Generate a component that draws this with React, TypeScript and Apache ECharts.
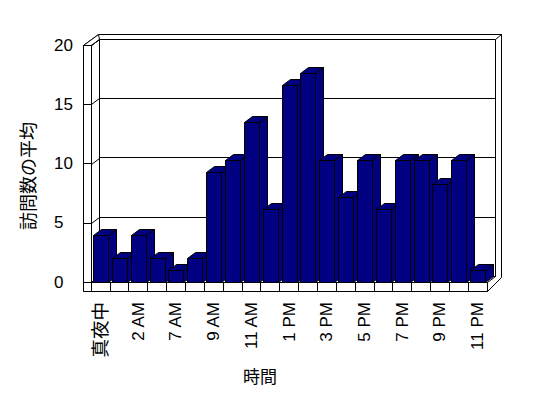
import React, { useEffect, useRef } from "react";
import * as echarts from "echarts";

const categories = [
  "真夜中", "1 AM", "2 AM", "6 AM", "7 AM", "8 AM", "9 AM", "10 AM", "11 AM", "12 PM", "1 PM",
  "2 PM", "3 PM", "4 PM", "5 PM", "6 PM", "7 PM", "8 PM", "9 PM", "10 PM", "11 PM",
];
const visits = [4, 2, 4, 2, 1, 2, 9.3, 10.3, 13.5, 6.2, 16.6, 17.6, 10.3, 7.2, 10.3, 6.2, 10.3, 10.3, 8.3, 10.3, 1];
const yTicks = [0, 5, 10, 15, 20];
const xTitle = "時間";
const yTitle = "訪問数の平均";

const FONT = '"Liberation Sans", "Noto Sans CJK JP", sans-serif';
const W = 548;
const H = 398;
// front plane
const L = 91, R = 487, T = 45, B = 282;
// depth offset
const DX = 8, DY = -6;
const h = (p: number[][]) => p.map(([x, y]) => [x + 0.5, y + 0.5]);
const lineStyle = { fill: "#fff", stroke: "#000", lineWidth: 1 };

export default function App() {
  const ref = useRef<HTMLDivElement>(null);
  useEffect(() => {
    if (!ref.current) return;
    const chart = echarts.init(ref.current, undefined, { renderer: "svg" });
    const option: any = {
      animation: false,
      backgroundColor: "#fff",
      textStyle: { fontFamily: FONT },
      grid: [
        { left: L, right: W - R, top: T, bottom: H - B },
        { left: L + DX, right: W - R - DX, top: T + DY, bottom: H - B - DY },
      ],
      xAxis: [
        {
          type: "category",
          gridIndex: 0,
          data: categories,
          z: 2,
          axisLine: { lineStyle: { color: "#000", width: 1 } },
          axisTick: { show: true, length: 9, interval: 0, lineStyle: { color: "#000" } },
          axisLabel: {
            interval: 1,
            rotate: 90,
            margin: 20,
            fontSize: 17,
            color: "#000",
            fontFamily: FONT,
            formatter: (v: string) => (/[^\x00-\x7F]/.test(v) ? `{c|${v}}` : v),
            rich: { c: { fontSize: 18.5, color: "#000", fontFamily: FONT } },
          },
        },
        { type: "value", gridIndex: 1, min: 0, max: 1, show: false },
      ],
      yAxis: [
        {
          type: "value",
          gridIndex: 0,
          min: 0,
          max: 20,
          interval: 5,
          z: 2,
          axisLine: { show: true, lineStyle: { color: "#000", width: 1 } },
          axisTick: { show: true, length: 8, lineStyle: { color: "#000" } },
          axisLabel: { margin: 37, align: "left", fontSize: 17, color: "#000", fontFamily: FONT },
          splitLine: { show: false },
        },
        {
          type: "value",
          gridIndex: 1,
          min: 0,
          max: 20,
          interval: 5,
          z: 2,
          axisLine: { show: false },
          axisTick: { show: false },
          axisLabel: { show: false },
          splitLine: { show: true, lineStyle: { color: "#000", width: 1 } },
        },
      ],
      graphic: [
        { type: "polygon", z: 0, silent: true, shape: { points: h([[83, 45], [98, 34], [501, 34], [501, 277], [487, 291], [83, 291]]) }, style: lineStyle },
        { type: "rect", z: 1, silent: true, shape: { x: 99.5, y: 39.5, width: R + DX - (L + DX), height: B - T }, style: lineStyle },
        { type: "polygon", z: 1, silent: true, shape: { points: h([[L, T], [L + DX, T + DY], [L + DX, B + DY], [L, B]]) }, style: lineStyle },
        { type: "polygon", z: 1, silent: true, shape: { points: h([[83, T], [L, T], [L + DX, T + DY], [98, 34]]) }, style: lineStyle },
        { type: "rect", z: 1, silent: true, shape: { x: 83.5, y: T + 0.5, width: L - 83, height: B - T }, style: lineStyle },
        { type: "polygon", z: 1, silent: true, shape: { points: h([[L, B], [L + DX, B + DY], [R + DX, B + DY], [R, B]]) }, style: lineStyle },
        { type: "rect", z: 1, silent: true, shape: { x: 83.5, y: B + 0.5, width: R - 83, height: 9 }, style: lineStyle },
        { type: "line", z: 1, silent: true, shape: { x1: R + DX + 0.5, y1: T + DY + 0.5, x2: 501.5, y2: 34.5 }, style: { stroke: "#000", lineWidth: 1 } },
        {
          type: "text",
          z: 3,
          x: 29,
          y: 176,
          rotation: Math.PI / 2,
          style: { text: yTitle, fontSize: 18, fontFamily: FONT, fill: "#000", align: "center", verticalAlign: "middle" },
        },
        {
          type: "text",
          z: 3,
          x: 260,
          y: 377,
          style: { text: xTitle, fontSize: 17, fontFamily: FONT, fill: "#000", align: "center", verticalAlign: "middle" },
        },
      ],
      series: [
        {
          type: "custom",
          xAxisIndex: 0,
          yAxisIndex: 0,
          z: 2,
          silent: true,
          data: yTicks.map((v) => [0, v]),
          encode: { x: 0, y: 1 },
          renderItem: (params: any, api: any) => {
            const y = Math.round(api.coord([0, api.value(1)])[1]) + 0.5;
            const x0 = Math.round(params.coordSys.x) + 0.5;
            return {
              type: "line",
              shape: { x1: x0, y1: y, x2: x0 + DX, y2: y + DY },
              style: { stroke: "#000", lineWidth: 1 },
            };
          },
        },
        {
          type: "custom",
          xAxisIndex: 0,
          yAxisIndex: 0,
          z: 5,
          data: visits.map((v, i) => [i, v]),
          encode: { x: 0, y: 1 },
          renderItem: (params: any, api: any) => {
            const idx = api.value(0);
            const v = api.value(1);
            const top = api.coord([idx, v]);
            const base = api.coord([idx, 0]);
            const bw = 15;
            const xl = Math.round(top[0] - bw / 2) + 0.5;
            const xr = xl + bw;
            const yt = Math.round(top[1]) + 0.5;
            const yb = Math.round(base[1]) + 0.5;
            const style = { fill: "#000080", stroke: "#000", lineWidth: 1 };
            return {
              type: "group",
              children: [
                { type: "polygon", shape: { points: [[xr, yt], [xr + DX, yt + DY], [xr + DX, yb + DY], [xr, yb]] }, style },
                { type: "polygon", shape: { points: [[xl, yt], [xl + DX, yt + DY], [xr + DX, yt + DY], [xr, yt]] }, style },
                { type: "rect", shape: { x: xl, y: yt, width: bw, height: yb - yt }, style },
              ],
            };
          },
        },
      ],
    };
    chart.setOption(option);
    return () => chart.dispose();
  }, []);
  return <div ref={ref} style={{ position: "absolute", left: 0, top: 0, width: W, height: H }} />;
}
